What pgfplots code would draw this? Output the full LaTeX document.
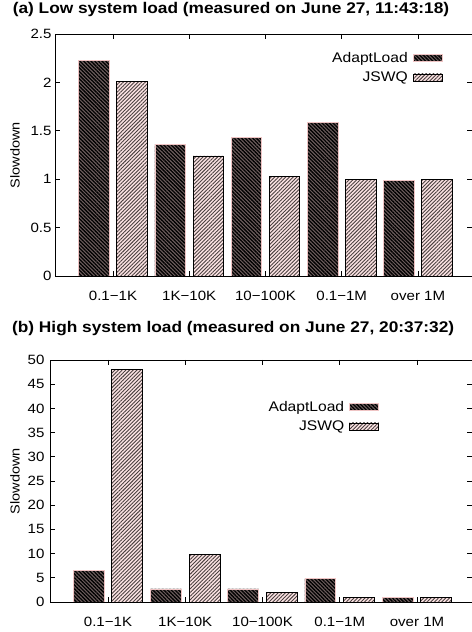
\documentclass[border=0pt]{standalone}
\usepackage{fontspec}
\setmainfont{Liberation Sans}[FakeStretch=1.12]
\usepackage{pgfplots}
\pgfplotsset{compat=1.18}
\usetikzlibrary{patterns.meta}
\definecolor{adfill}{HTML}{6E5E5E}
\definecolor{adedge}{HTML}{EFC4C4}
\definecolor{jsfill}{HTML}{FBE3E3}
\definecolor{jsline}{HTML}{4A4040}
\pgfplotsset{
 mylegend/.style={legend image code/.code={\draw[##1] (0bp,-3.5bp) rectangle (29bp,3.5bp);}},
 adapt/.style={ybar, bar width=0.4, bar shift=-0.25, draw=adedge, line width=0.8bp, fill=adfill,
   postaction={pattern={Lines[angle=-45,distance=2.6bp,line width=1.3bp]}, pattern color=black}, mylegend},
 jswq/.style={ybar, bar width=0.4, bar shift=0.25, draw=black, line width=0.8bp, fill=jsfill,
   postaction={pattern={Lines[angle=45,distance=2.6bp,line width=0.9bp]}, pattern color=jsline}, mylegend},
 myaxis/.style={scale only axis, height=242bp,
   xtick={0,1,2,3,4}, xticklabels={0.1−1K,1K−10K,10−100K,0.1−1M,over 1M},
   tick align=inside, major tick length=5bp,
   axis line style={line width=0.8bp}, every tick/.style={black, line width=0.8bp},
   tick label style={font=\fontsize{13.5}{15}\selectfont},
   xticklabel style={yshift=-12bp},
   /pgf/number format/assume math mode=true,
   ylabel={Slowdown},
   title style={font=\fontsize{15.5}{18}\bfseries, anchor=center},
   legend cell align=right, legend plot pos=right,
   legend style={draw=none, fill=none, inner sep=0pt, row sep=6bp, column sep=4bp,
     nodes={inner sep=1bp}, font=\fontsize{14}{16}\selectfont, anchor=north east},
 },
}
\begin{document}
\begin{tikzpicture}
\useasboundingbox (0,0) rectangle (472bp,632bp);
% (a)
\begin{axis}[myaxis, at={(55bp,356bp)}, anchor=south west, width=417bp,
  xmin=-0.761, xmax=4.709, ymin=0, ymax=2.5, ytick={0,0.5,1,1.5,2,2.5},
  title={(a) Low system load (measured on June 27, 11:43:18)},
  title style={at={(0.422,1)}, yshift=19bp},
  every axis y label/.style={at={(axis description cs:-0.096,0.5)}, rotate=90, anchor=center, font=\fontsize{13}{15}\selectfont},
  legend style={at={(0.930,1)}, yshift=-17bp}]
\addplot[adapt] coordinates {(0,2.23) (1,1.36) (2,1.43) (3,1.59) (4,0.99)};
\addlegendentry{AdaptLoad}
\addplot[jswq] coordinates {(0,2.01) (1,1.24) (2,1.03) (3,1.0) (4,1.0)};
\addlegendentry{JSWQ}
\end{axis}
% (b)
\begin{axis}[myaxis, at={(50bp,30bp)}, anchor=south west, width=422bp,
  xmin=-0.751, xmax=4.712, ymin=0, ymax=50, ytick={0,5,...,50},
  yticklabel style={xshift=-2bp},
  title={(b) High system load (measured on June 27, 20:37:32)},
  title style={at={(0.434,1)}, yshift=25bp},
  every axis y label/.style={at={(axis description cs:-0.083,0.5)}, rotate=90, anchor=center, font=\fontsize{13}{15}\selectfont},
  legend style={at={(0.780,1)}, yshift=-40bp}]
\addplot[adapt] coordinates {(0,6.5) (1,2.7) (2,2.7) (3,4.9) (4,0.9)};
\addlegendentry{AdaptLoad}
\addplot[jswq] coordinates {(0,48.0) (1,9.9) (2,1.9) (3,1.0) (4,1.0)};
\addlegendentry{JSWQ}
\end{axis}
\end{tikzpicture}
\end{document}
